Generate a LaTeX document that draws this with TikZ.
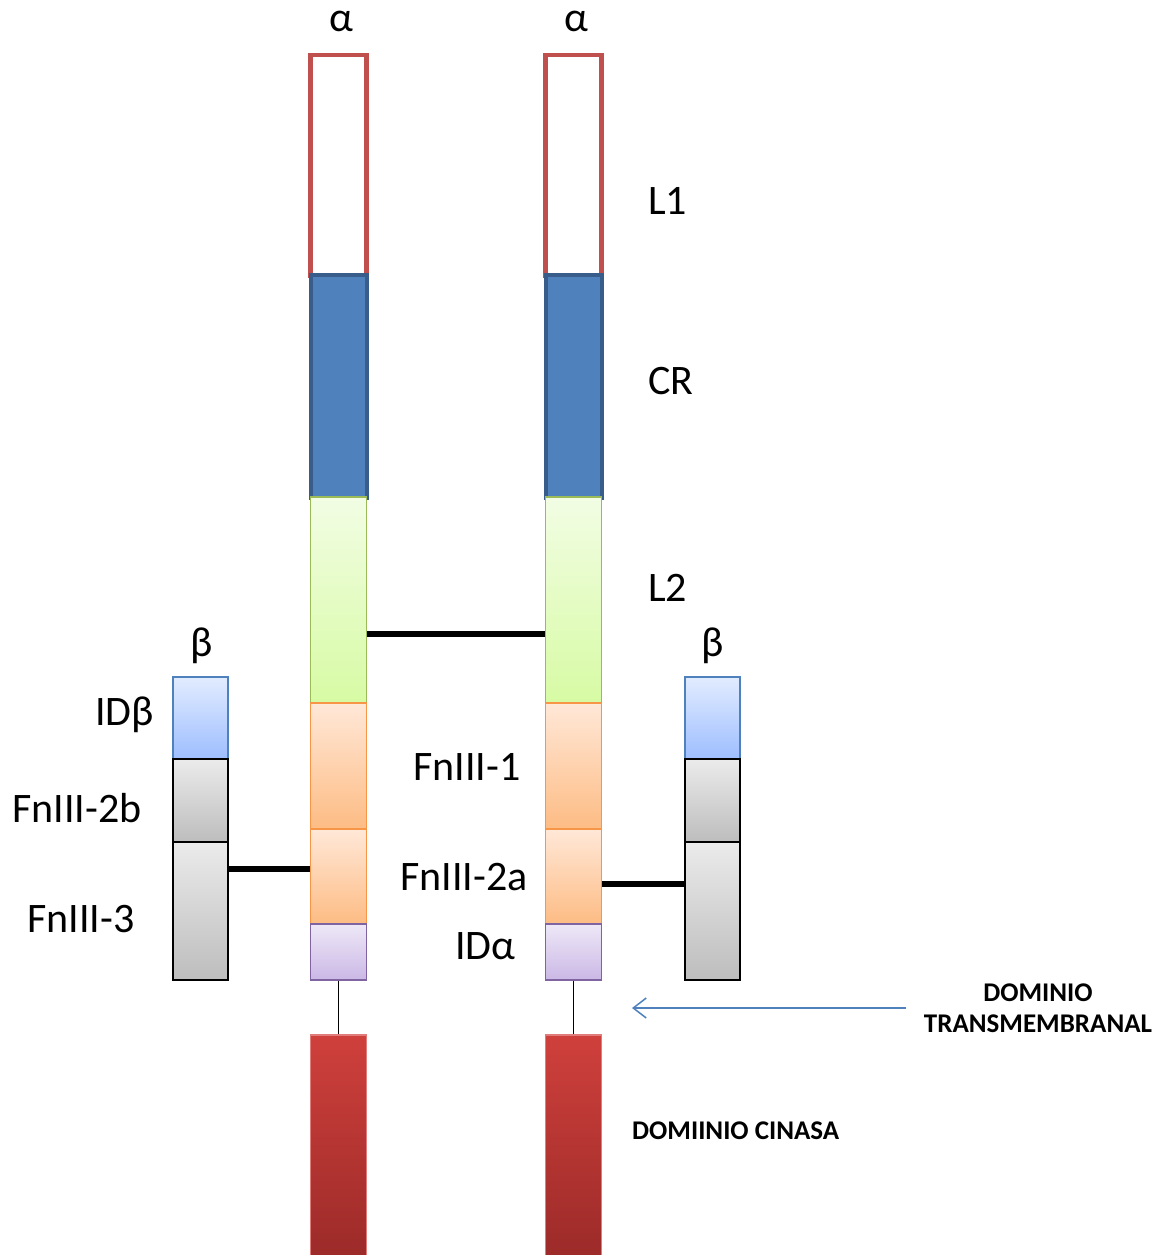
\documentclass[tikz,border=0pt]{standalone}
\usepackage{fontspec}
\setmainfont{Carlito}
\usetikzlibrary{arrows.meta}
\definecolor{lone}{HTML}{C0504D}
\definecolor{crfill}{HTML}{4F81BD}
\definecolor{crdraw}{HTML}{385D8A}
\definecolor{gtop}{HTML}{F2FDE4}
\definecolor{gbot}{HTML}{D7FBA4}
\definecolor{gdraw}{HTML}{9BBB59}
\definecolor{otop}{HTML}{FFE8D8}
\definecolor{obot}{HTML}{FDBC84}
\definecolor{odraw}{HTML}{F79646}
\definecolor{ptop}{HTML}{EEE8F7}
\definecolor{pbot}{HTML}{CBB8E6}
\definecolor{pdraw}{HTML}{8064A2}
\definecolor{btop}{HTML}{E2ECFF}
\definecolor{bbot}{HTML}{9EBEFF}
\definecolor{ktop}{HTML}{CF403C}
\definecolor{kbot}{HTML}{9A2A28}
\definecolor{kdraw}{HTML}{E07C7A}
\definecolor{ytop}{HTML}{EBEBEB}
\definecolor{ybot}{HTML}{BDBDBD}
\definecolor{arrowblue}{HTML}{4F81BD}
\begin{document}
\begin{tikzpicture}[x=1pt,y=-1pt,
  dom/.style={rectangle, minimum width=56pt, inner sep=0pt, anchor=north},
  bdom/.style={rectangle, minimum width=55pt, inner sep=0pt, anchor=north},
  lone/.style={dom, draw=lone, line width=4.5pt, fill=white},
  crbox/.style={dom, draw=crdraw, line width=4pt, fill=crfill},
  ltwo/.style={dom, draw=gdraw, line width=1.5pt, top color=gtop, bottom color=gbot},
  fnbox/.style={dom, draw=odraw, line width=1.5pt, top color=otop, bottom color=obot},
  idabox/.style={dom, draw=pdraw, line width=1.5pt, top color=ptop, bottom color=pbot},
  kbox/.style={dom, draw=kdraw, line width=1.5pt, top color=ktop, bottom color=kbot},
  idbbox/.style={bdom, draw=crfill, line width=1.5pt, top color=btop, bottom color=bbot},
  graybox/.style={bdom, draw=black, line width=2pt, top color=ytop, bottom color=ybot},
  lab/.style={inner sep=0pt, anchor=base west, font=\fontsize{42}{50}\selectfont},
  glab/.style={inner sep=0pt, anchor=base, font=\fontsize{42}{50}\selectfont},
  blab/.style={inner sep=0pt, font=\bfseries\fontsize{27}{31}\selectfont},
  link/.style={line width=5.5pt, black},
  stem/.style={line width=1.8pt, black}]
\useasboundingbox (0,0) rectangle (1159,1255);
% left alpha column
\node[lone, minimum height=220pt] (L1a) at (338.5,53) {};
\node[crbox, minimum height=223pt] (CRa) at (338.5,273) {};
\node[ltwo, minimum height=206pt] (L2a) at (338.5,496) {};
\node[fnbox, minimum height=126pt] (F1a) at (338.5,702) {};
\node[fnbox, minimum height=95pt] (F2a) at (338.5,828) {};
\node[idabox, minimum height=56pt] (IDa) at (338.5,923) {};
\node[kbox, minimum height=230pt] (Ka) at (338.5,1034) {};
% right alpha column
\node[lone, minimum height=220pt] (L1b) at (573.5,53) {};
\node[crbox, minimum height=223pt] (CRb) at (573.5,273) {};
\node[ltwo, minimum height=206pt] (L2b) at (573.5,496) {};
\node[fnbox, minimum height=126pt] (F1b) at (573.5,702) {};
\node[fnbox, minimum height=95pt] (F2b) at (573.5,828) {};
\node[idabox, minimum height=56pt] (IDb) at (573.5,923) {};
\node[kbox, minimum height=230pt] (Kb) at (573.5,1034) {};
% beta columns
\node[idbbox, minimum height=82pt] (IBa) at (200.5,676) {};
\node[graybox, minimum height=83pt] (G2a) at (200.5,758) {};
\node[graybox, minimum height=138pt] (G3a) at (200.5,841) {};
\node[idbbox, minimum height=82pt] (IBb) at (712.5,676) {};
\node[graybox, minimum height=83pt] (G2b) at (712.5,758) {};
\node[graybox, minimum height=138pt] (G3b) at (712.5,841) {};
% connectors
\draw[link] (L2a.east |- 0,634) -- (L2b.west |- 0,634);
\draw[link] (G3a.east |- 0,869) -- (F2a.west |- 0,869);
\draw[link] (F2b.east |- 0,884) -- (G3b.west |- 0,884);
\draw[stem] (IDa.south) -- (Ka.north);
\draw[stem] (IDb.south) -- (Kb.north);
% labels
\node[glab] (al1) at (341,32) {α};
\node[glab] (al2) at (576,32) {α};
\node[glab] (be1) at (202,656) {β};
\node[glab] (be2) at (713,656) {β};
\node[lab] (tL1) at (648,214) {L1};
\node[lab] (tCR) at (648,394) {CR};
\node[lab] (tL2) at (648,601) {L2};
\node[lab] (tF1) at (413,780) {FnIII-1};
\node[lab] (tF2a) at (400,890) {FnIII-2a};
\node[lab] (tIDa) at (455,959) {IDα};
\node[lab] (tIDb) at (95,725) {IDβ};
\node[lab] (tF2b) at (12,822) {FnIII-2b};
\node[lab] (tF3) at (27,932) {FnIII-3};
\node[blab, align=center, inner xsep=18pt] (TM) at (1038,1008) {DOMINIO\\TRANSMEMBRANAL};
\node[blab, anchor=base west] (KIN) at (632,1139) {DOMIINIO CINASA};
\coordinate (tip) at (632,1007);
\draw[arrowblue, line width=1.5pt, -{Straight Barb[length=13pt,width=20pt]}] (TM.west) -- (TM.west -| tip);
\end{tikzpicture}
\end{document}
